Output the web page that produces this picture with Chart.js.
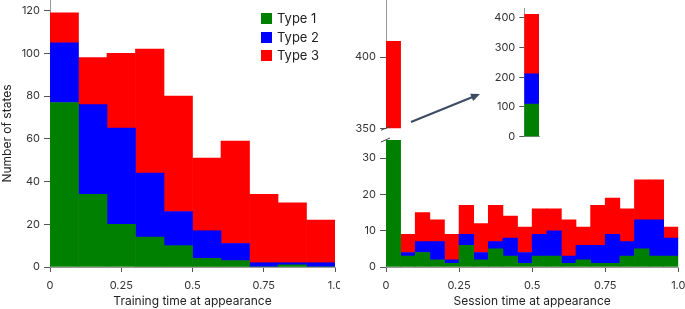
<!DOCTYPE html>
<html>
<head>
<meta charset="utf-8">
<script src="https://cdn.jsdelivr.net/npm/chart.js@4/dist/chart.umd.min.js"></script>
<style>
  html, body { margin: 0; padding: 0; background: #fff; overflow: hidden; }
  body { width: 685px; height: 309px; position: relative; }
  canvas { position: absolute; }
  #legend { position: absolute; left: 261px; top: 9px; font: 13px Inter, 'Noto Sans', sans-serif; color: #222; }
  #legend div { height: 18.7px; line-height: 18.7px; white-space: nowrap; }
  #legend span { display: inline-block; width: 11px; height: 11px; vertical-align: -1px; margin-right: 5px; }
</style>
</head>
<body>
<canvas id="train" width="340" height="309" style="left:0;top:0"></canvas>
<canvas id="sessTop" width="345" height="137" style="left:340px;top:0"></canvas>
<canvas id="sessLow" width="345" height="172" style="left:340px;top:137px"></canvas>
<canvas id="inset" width="80" height="150" style="left:480px;top:0"></canvas>
<div id="legend">
  <div><span style="background:#008000"></span>Type 1</div>
  <div><span style="background:#0000ff"></span>Type 2</div>
  <div><span style="background:#ff0000"></span>Type 3</div>
</div>
<script>
// Training time histogram, 10 bins of 0.1
const trainBins = ['0-0.1', '0.1-0.2', '0.2-0.3', '0.3-0.4', '0.4-0.5', '0.5-0.6', '0.6-0.7', '0.7-0.8', '0.8-0.9', '0.9-1.0'];
const trainType1 = [77, 34, 20, 14, 10, 4, 3, 0, 1, 0];
const trainType2 = [28, 42, 45, 30, 16, 13, 8, 2, 1, 2];
const trainType3 = [14, 22, 35, 58, 54, 34, 48, 32, 28, 20];

// Session time histogram, 20 bins of 0.05
const sessBins = ['0', '0.05', '0.1', '0.15', '0.2', '0.25', '0.3', '0.35', '0.4', '0.45',
                  '0.5', '0.55', '0.6', '0.65', '0.7', '0.75', '0.8', '0.85', '0.9', '0.95'];
const sessType1 = [110, 3, 4, 2, 1, 6, 2, 5, 3, 1, 3, 3, 1, 2, 1, 1, 3, 5, 3, 3];
const sessType2 = [101, 1, 3, 5, 1, 3, 2, 2, 5, 3, 6, 7, 2, 4, 5, 8, 4, 8, 10, 5];
const sessType3 = [200, 5, 8, 6, 7, 8, 8, 10, 6, 7, 7, 6, 10, 5, 11, 10, 9, 11, 11, 3];

const xTicks = [0, 0.25, 0.5, 0.75, 1.0];

const FONT = "Inter, 'Noto Sans', sans-serif";
const colors = ['#008000', '#0000ff', '#ff0000'];
const names = ['Type 1', 'Type 2', 'Type 3'];

function datasets(series) {
  return series.map((d, i) => ({
    label: names[i],
    data: d,
    backgroundColor: colors[i],
    borderWidth: 0,
    barPercentage: 1,
    categoryPercentage: 1
  }));
}

const tickFont = { family: FONT, size: 11 };
const titleFont = { family: FONT, size: 12 };

function yAxis(opts) {
  return {
    stacked: true,
    min: opts.min, max: opts.max,
    border: { display: true, color: '#999' },
    grid: { drawOnChartArea: false, drawTicks: true, tickLength: opts.tickLength || 6, tickColor: '#555' },
    ticks: { stepSize: opts.step, includeBounds: false, font: tickFont, color: '#333', padding: 4 },
    title: opts.title ? { display: true, text: opts.title, font: titleFont, color: '#222', padding: 0 } : { display: false },
    afterFit: s => { s.width = opts.width; s.paddingTop = 0; s.paddingBottom = 0; }
  };
}

function timeAxis(title) {
  return {
    type: 'linear', position: 'bottom', min: 0, max: 1,
    offset: false,
    border: { display: true, color: '#999' },
    grid: { offset: false, drawOnChartArea: false, drawTicks: true, tickLength: 5, tickColor: '#555' },
    afterBuildTicks: s => { s.ticks = xTicks.map(v => ({ value: v })); },
    ticks: { font: tickFont, color: '#333', padding: 7, maxRotation: 0,
             callback: v => v === 1 ? '1.0' : String(v) },
    title: { display: true, text: title, font: titleFont, color: '#222', padding: { top: 0, bottom: 0 } },
    afterFit: s => { s.height = 42; s.paddingLeft = 0; s.paddingRight = 0; }
  };
}

const common = {
  responsive: false,
  animation: false,
  plugins: { legend: { display: false }, tooltip: { enabled: false } }
};

// axis break slash marks
function slash(ctx, x, y) {
  ctx.save();
  ctx.strokeStyle = '#444';
  ctx.lineWidth = 1;
  ctx.beginPath();
  ctx.moveTo(x - 5, y + 2);
  ctx.lineTo(x + 4, y - 2);
  ctx.stroke();
  ctx.restore();
}

new Chart(document.getElementById('train'), {
  type: 'bar',
  data: { labels: trainBins, datasets: datasets([trainType1, trainType2, trainType3]) },
  options: Object.assign({}, common, {
    layout: { padding: { top: 0, right: 5, bottom: 0, left: 0 } },
    scales: {
      x: { stacked: true, display: false },
      xt: timeAxis('Training time at appearance'),
      y: yAxis({ min: 0, max: 125, step: 20, width: 50, title: 'Number of states' })
    }
  })
});

new Chart(document.getElementById('sessLow'), {
  type: 'bar',
  data: { labels: sessBins, datasets: datasets([sessType1, sessType2, sessType3]) },
  options: Object.assign({}, common, {
    layout: { padding: { top: 3, right: 6.7, bottom: 0, left: 0 } },
    scales: {
      x: { stacked: true, display: false },
      xt: timeAxis('Session time at appearance'),
      y: yAxis({ min: 0, max: 35, step: 10, width: 46 })
    }
  }),
  plugins: [{
    id: 'breakLow',
    afterDraw: c => slash(c.ctx, c.chartArea.left, c.chartArea.top)
  }]
});

new Chart(document.getElementById('sessTop'), {
  type: 'bar',
  data: { labels: sessBins, datasets: datasets([sessType1, sessType2, sessType3]) },
  options: Object.assign({}, common, {
    layout: { padding: { top: 0, right: 6.7, bottom: 8.7, left: 0 } },
    scales: {
      x: { stacked: true, display: false },
      y: yAxis({ min: 350, max: 440, step: 50, width: 46 })
    }
  }),
  plugins: [{
    id: 'breakTopArrow',
    afterDraw: c => {
      const ctx = c.ctx;
      slash(ctx, c.chartArea.left, c.chartArea.bottom);
      // arrow pointing to the inset
      const x0 = 71, y0 = 122, x1 = 140, y1 = 94;
      const a = Math.atan2(y1 - y0, x1 - x0);
      ctx.save();
      ctx.strokeStyle = '#3d4b63';
      ctx.fillStyle = '#3d4b63';
      ctx.lineWidth = 2;
      ctx.beginPath();
      ctx.moveTo(x0, y0);
      ctx.lineTo(x1 - 6 * Math.cos(a), y1 - 6 * Math.sin(a));
      ctx.stroke();
      ctx.beginPath();
      ctx.moveTo(x1, y1);
      ctx.lineTo(x1 - 9 * Math.cos(a) + 4 * Math.sin(a), y1 - 9 * Math.sin(a) - 4 * Math.cos(a));
      ctx.lineTo(x1 - 9 * Math.cos(a) - 4 * Math.sin(a), y1 - 9 * Math.sin(a) + 4 * Math.cos(a));
      ctx.closePath();
      ctx.fill();
      ctx.restore();
    }
  }]
});

new Chart(document.getElementById('inset'), {
  type: 'bar',
  data: {
    labels: [sessBins[0]],
    datasets: datasets([[sessType1[0]], [sessType2[0]], [sessType3[0]]])
  },
  options: Object.assign({}, common, {
    layout: { padding: { top: 8.8, right: 21, bottom: 13.3, left: 0 } },
    scales: {
      x: { stacked: true, display: true,
           border: { display: true, color: '#999' },
           grid: { drawOnChartArea: false, drawTicks: false },
           ticks: { display: false },
           afterFit: s => { s.height = 0; } },
      y: yAxis({ min: 0, max: 430, step: 100, width: 44.3, tickLength: 5 })
    }
  })
});
</script>
</body>
</html>
